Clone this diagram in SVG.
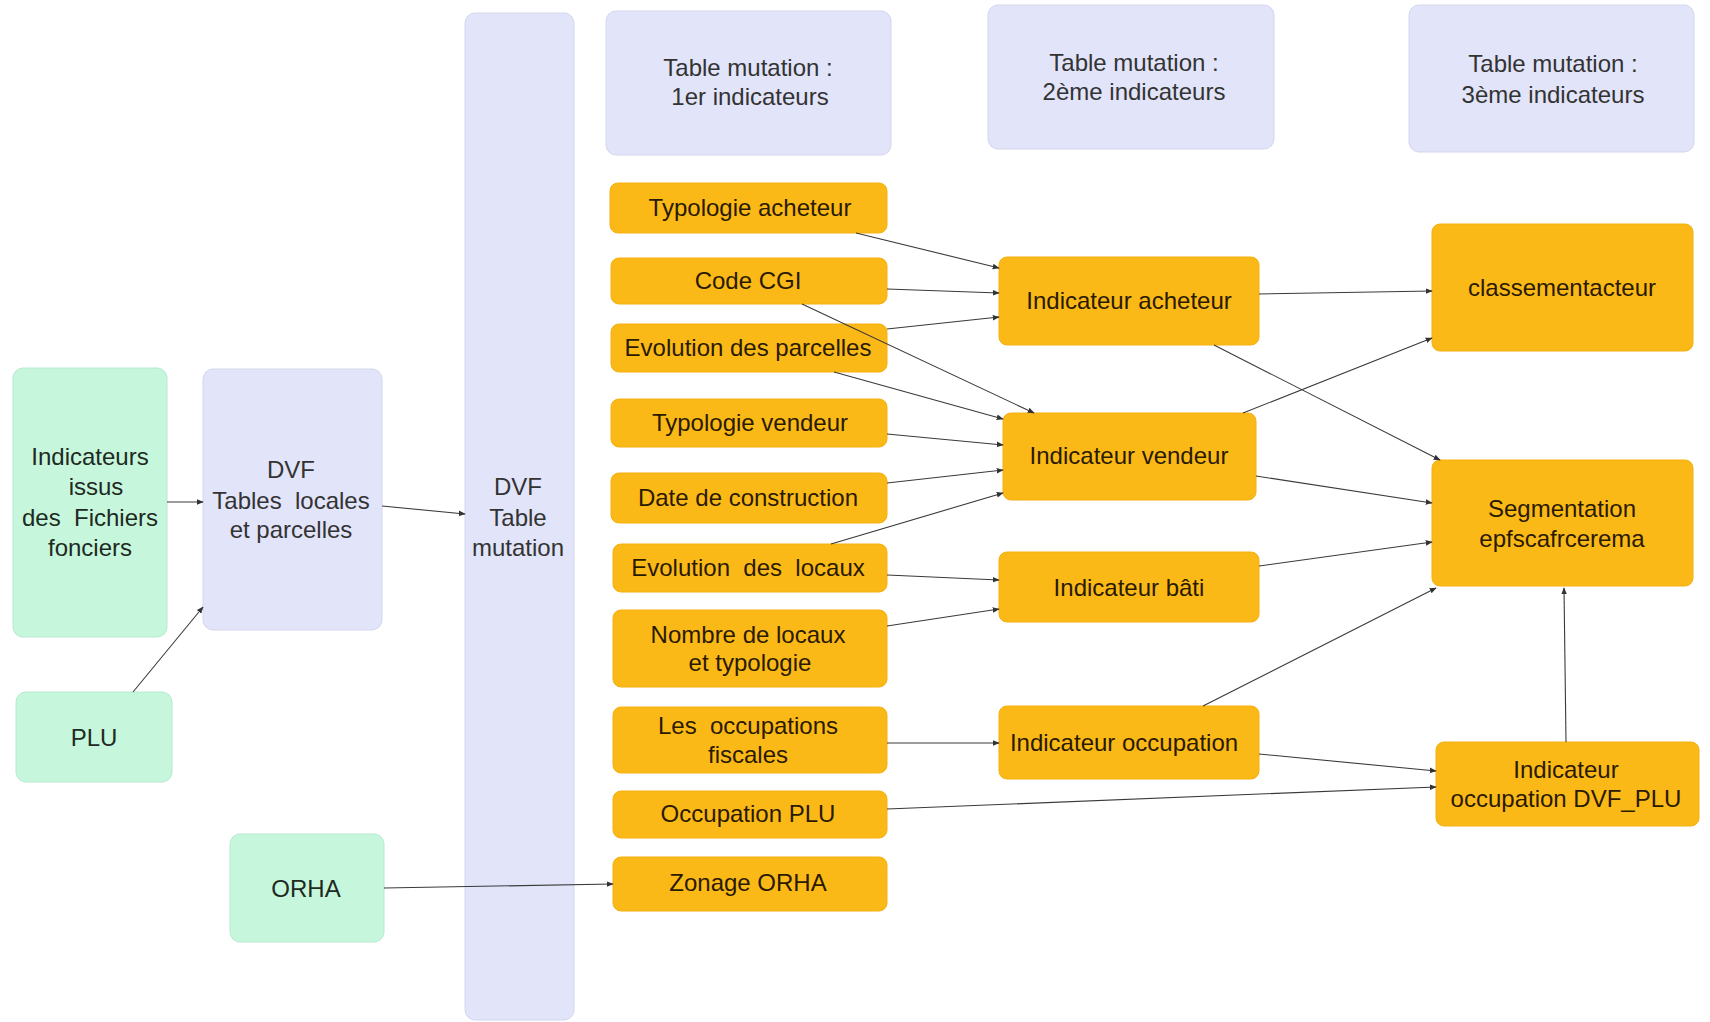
<svg xmlns="http://www.w3.org/2000/svg" width="1710" height="1022" viewBox="0 0 1710 1022">
<defs>
<style>
text{font-family:"Liberation Sans",Arial,sans-serif;font-size:24px;text-anchor:middle}
.g{fill:#c6f7dc;stroke:#b6ead0;stroke-width:1}
.l{fill:#e2e4f9;stroke:#d3d6ee;stroke-width:1}
.o{fill:#fbb917;stroke:#f4b010;stroke-width:1}
.tl{fill:#333}
.tg{fill:#1e2a22}
.to{fill:#2a1a00}
.e{fill:none;stroke:#3a3a3a;stroke-width:1.1;marker-end:url(#ah)}
</style>
<marker id="ah" viewBox="0 0 10 10" refX="9" refY="5" markerWidth="7" markerHeight="7" markerUnits="userSpaceOnUse" orient="auto">
<path d="M0,1 L10,5 L0,9 z" fill="#333"/>
</marker>
</defs>
<rect width="1710" height="1022" fill="#fff"/>

<g id="n-ff"><rect class="g" x="13" y="368" width="154" height="269" rx="10"/>
<text class="tg" x="90" y="465">Indicateurs</text><text class="tg" x="96" y="495">issus</text><text class="tg" x="90" y="526" xml:space="preserve">des  Fichiers</text><text class="tg" x="90" y="556">fonciers</text></g>
<g id="n-plu"><rect class="g" x="16" y="692" width="156" height="90" rx="10"/>
<text class="tg" x="94" y="746">PLU</text></g>
<g id="n-orha"><rect class="g" x="230" y="834" width="154" height="108" rx="10"/>
<text class="tg" x="306" y="897">ORHA</text></g>

<g id="n-dvftables"><rect class="l" x="203" y="369" width="179" height="261" rx="10"/>
<text class="tl" x="291" y="478">DVF</text><text class="tl" x="291" y="509" xml:space="preserve">Tables  locales</text><text class="tl" x="291" y="538">et parcelles</text></g>
<g id="n-dvfmut"><rect class="l" x="465" y="13" width="109" height="1007" rx="10"/>
<text class="tl" x="518" y="495">DVF</text><text class="tl" x="518" y="526">Table</text><text class="tl" x="518" y="556">mutation</text></g>
<g id="n-t1"><rect class="l" x="606" y="11" width="285" height="144" rx="10"/>
<text class="tl" x="748" y="76">Table mutation :</text><text class="tl" x="750" y="105">1er indicateurs</text></g>
<g id="n-t2"><rect class="l" x="988" y="5" width="286" height="144" rx="10"/>
<text class="tl" x="1134" y="71">Table mutation :</text><text class="tl" x="1134" y="100">2ème indicateurs</text></g>
<g id="n-t3"><rect class="l" x="1409" y="5" width="285" height="147" rx="10"/>
<text class="tl" x="1553" y="72">Table mutation :</text><text class="tl" x="1553" y="103">3ème indicateurs</text></g>

<g id="n-typach"><rect class="o" x="610" y="183" width="277" height="50" rx="8"/><text class="to" x="750" y="216">Typologie acheteur</text></g>
<g id="n-cgi"><rect class="o" x="611" y="258" width="276" height="46" rx="8"/><text class="to" x="748" y="289">Code CGI</text></g>
<g id="n-evparc"><rect class="o" x="611" y="324" width="276" height="48" rx="8"/><text class="to" x="748" y="356">Evolution des parcelles</text></g>
<g id="n-typvend"><rect class="o" x="611" y="399" width="276" height="48" rx="8"/><text class="to" x="750" y="431">Typologie vendeur</text></g>
<g id="n-date"><rect class="o" x="611" y="473" width="276" height="50" rx="8"/><text class="to" x="748" y="506">Date de construction</text></g>
<g id="n-evloc"><rect class="o" x="613" y="544" width="274" height="48" rx="8"/><text class="to" x="748" y="576" xml:space="preserve">Evolution  des  locaux</text></g>
<g id="n-nbloc"><rect class="o" x="613" y="610" width="274" height="77" rx="8"/><text class="to" x="748" y="643">Nombre de locaux</text><text class="to" x="750" y="671">et typologie</text></g>
<g id="n-occfisc"><rect class="o" x="613" y="707" width="274" height="66" rx="8"/><text class="to" x="748" y="734" xml:space="preserve">Les  occupations</text><text class="to" x="748" y="763">fiscales</text></g>
<g id="n-occplu"><rect class="o" x="613" y="791" width="274" height="47" rx="8"/><text class="to" x="748" y="822">Occupation PLU</text></g>
<g id="n-zorha"><rect class="o" x="613" y="857" width="274" height="54" rx="8"/><text class="to" x="748" y="891">Zonage ORHA</text></g>

<g id="n-iach"><rect class="o" x="999" y="257" width="260" height="88" rx="8"/><text class="to" x="1129" y="309">Indicateur acheteur</text></g>
<g id="n-ivend"><rect class="o" x="1003" y="413" width="253" height="87" rx="8"/><text class="to" x="1129" y="464">Indicateur vendeur</text></g>
<g id="n-ibati"><rect class="o" x="999" y="552" width="260" height="70" rx="8"/><text class="to" x="1129" y="596">Indicateur bâti</text></g>
<g id="n-iocc"><rect class="o" x="999" y="706" width="260" height="73" rx="8"/><text class="to" x="1124" y="751">Indicateur occupation</text></g>

<g id="n-class"><rect class="o" x="1432" y="224" width="261" height="127" rx="8"/><text class="to" x="1562" y="296">classementacteur</text></g>
<g id="n-seg"><rect class="o" x="1432" y="460" width="261" height="126" rx="8"/><text class="to" x="1562" y="517">Segmentation</text><text class="to" x="1562" y="547">epfscafrcerema</text></g>
<g id="n-iocplu"><rect class="o" x="1436" y="742" width="263" height="84" rx="8"/><text class="to" x="1566" y="778">Indicateur</text><text class="to" x="1566" y="807">occupation DVF_PLU</text></g>

<g id="connectors">
<path class="e" d="M167,502 L203,502"/>
<path class="e" d="M133,692 L203,607"/>
<path class="e" d="M382,506 L465,514"/>
<path class="e" d="M384,888 L613,884"/>
<path class="e" d="M856,233 L999,268"/>
<path class="e" d="M887,289 L999,293"/>
<path class="e" d="M887,329 L999,317"/>
<path class="e" d="M802,304 L1034,413"/>
<path class="e" d="M834,372 L1003,419"/>
<path class="e" d="M887,434 L1003,445"/>
<path class="e" d="M887,483 L1003,470"/>
<path class="e" d="M831,544 L1003,493"/>
<path class="e" d="M887,575 L999,580"/>
<path class="e" d="M887,626 L999,609"/>
<path class="e" d="M887,743 L999,743"/>
<path class="e" d="M887,809 L1436,787"/>
<path class="e" d="M1259,294 L1432,291"/>
<path class="e" d="M1214,345 L1440,460"/>
<path class="e" d="M1243,413 L1432,338"/>
<path class="e" d="M1256,476 L1432,503"/>
<path class="e" d="M1259,566 L1432,542"/>
<path class="e" d="M1203,706 L1436,588"/>
<path class="e" d="M1259,754 L1436,771"/>
<path class="e" d="M1566,742 L1564,588"/>
</g>
</svg>
